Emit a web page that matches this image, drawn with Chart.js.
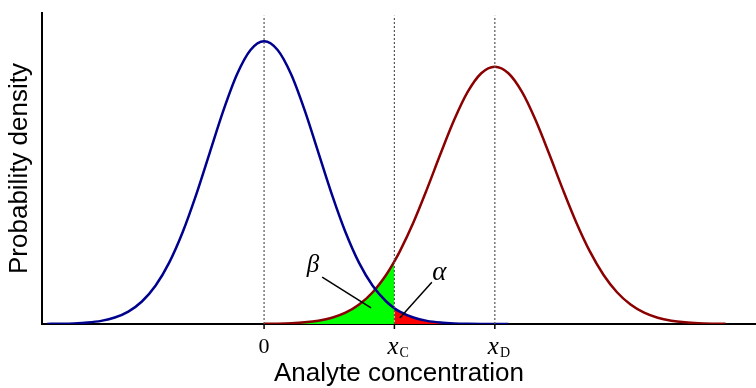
<!DOCTYPE html>
<html>
<head>
<meta charset="utf-8">
<script src="https://cdn.jsdelivr.net/npm/chart.js@4.4.1/dist/chart.umd.min.js"></script>
<style>
  html, body { margin: 0; padding: 0; background: #fff; }
  #wrap { width: 756px; height: 388px; }
</style>
</head>
<body>
<div id="wrap"><canvas id="grafico"></canvas></div>
<script>
// blanco (blank sample) curve, centred on 0
const blancoX = [-4, -3.75, -3.5, -3.25, -3, -2.75, -2.5, -2.25, -2, -1.75, -1.5, -1.25, -1, -0.75, -0.5, -0.25,
  0, 0.25, 0.5, 0.75, 1, 1.25, 1.5, 1.75, 2, 2.25, 2.4, 2.5, 2.75, 3, 3.25, 3.5, 3.75, 4, 4.25, 4.5];
const blancoY = [0.0003, 0.0009, 0.0022, 0.0051, 0.0111, 0.0228, 0.0439, 0.0796, 0.1353, 0.2163, 0.3247, 0.4578,
  0.6065, 0.7548, 0.8825, 0.9692, 1.0, 0.9692, 0.8825, 0.7548, 0.6065, 0.4578, 0.3247, 0.2163, 0.1353, 0.0796,
  0.0561, 0.0439, 0.0228, 0.0111, 0.0051, 0.0022, 0.0009, 0.0003, 0.0001, 0.0];

// muestra at the detection limit, centred on xD
const muestraX = [0, 0.25, 0.5, 0.75, 1, 1.25, 1.5, 1.75, 2, 2.25, 2.4, 2.5, 2.75, 3, 3.25, 3.5, 3.75, 4, 4.25,
  4.5, 4.75, 5, 5.25, 5.5, 5.75, 6, 6.25, 6.5, 6.75, 7, 7.25, 7.5, 7.75, 8, 8.25, 8.5];
const muestraY = [0.0005, 0.0012, 0.0027, 0.0058, 0.0116, 0.0221, 0.0400, 0.0688, 0.1123, 0.1743, 0.2212, 0.2567,
  0.3591, 0.4771, 0.6020, 0.7213, 0.8207, 0.8868, 0.91, 0.8868, 0.8207, 0.7213, 0.6020, 0.4771, 0.3591, 0.2567,
  0.1743, 0.1123, 0.0688, 0.0400, 0.0221, 0.0116, 0.0058, 0.0027, 0.0012, 0.0005];

// tick positions and their labels
const marcasX = [0, 2.4, 4.25];
const marcasTexto = [['0', ''], ['x', 'C'], ['x', 'D']];
const alturaGuia = 1.09;

// beta / alpha pointer lines and their letters
const betaLinea = [[1.07, 0.166], [1.97, 0.057]];
const alfaLinea = [[3.09, 0.148], [2.5, 0.021]];
const letras = [['β', 0.90, 0.208], ['α', 3.23, 0.18]];

const xC = marcasX[1];

function puntos(xs, ys) {
  return xs.map((x, i) => ({ x: x, y: ys[i] }));
}

const blanco = puntos(blancoX, blancoY);
const muestra = puntos(muestraX, muestraY);
const zonaBeta = muestra.filter(p => p.x <= xC);
const zonaAlfa = blanco.filter(p => p.x >= xC);

const guias = marcasX.map(x => ({
  data: [{ x: x, y: 0 }, { x: x, y: alturaGuia }],
  borderColor: '#555555',
  borderWidth: 1.2,
  borderDash: [2, 2],
  pointRadius: 0,
  fill: false,
  order: 1
}));

const etiquetas = {
  id: 'etiquetas',
  afterDraw(chart) {
    const ctx = chart.ctx;
    const sx = chart.scales.x;
    const sy = chart.scales.y;
    const base = sy.getPixelForValue(0);
    ctx.save();
    ctx.strokeStyle = '#000';
    ctx.lineWidth = 1.5;
    ctx.fillStyle = '#000';
    ctx.textBaseline = 'alphabetic';
    marcasX.forEach((v, i) => {
      const px = sx.getPixelForValue(v);
      ctx.beginPath();
      ctx.moveTo(px, base);
      ctx.lineTo(px, base + 5);
      ctx.stroke();
      const t = marcasTexto[i];
      if (t[1] === '') {
        ctx.font = '22px "Liberation Serif", "Times New Roman", serif';
        ctx.textAlign = 'center';
        ctx.fillText(t[0], px, 353);
      } else {
        ctx.textAlign = 'left';
        ctx.font = 'italic 25px "Liberation Serif", "Times New Roman", serif';
        ctx.fillText(t[0], px - 7, 354);
        const w = ctx.measureText(t[0]).width;
        ctx.font = '14px "Liberation Serif", "Times New Roman", serif';
        ctx.fillText(t[1], px - 7 + w + 1, 357);
      }
    });
    ctx.textAlign = 'center';
    ctx.textBaseline = 'middle';
    ctx.font = 'italic 25px "Liberation Serif", "Times New Roman", serif';
    ctx.fillText(letras[0][0], sx.getPixelForValue(letras[0][1]), sy.getPixelForValue(letras[0][2]));
    ctx.font = 'italic 27px "Liberation Serif", "Times New Roman", serif';
    ctx.fillText(letras[1][0], sx.getPixelForValue(letras[1][1]), sy.getPixelForValue(letras[1][2]));
    ctx.restore();
  }
};

const ctx = document.getElementById('grafico').getContext('2d');

new Chart(ctx, {
  type: 'line',
  data: {
    datasets: [
      { data: zonaBeta, borderWidth: 0, backgroundColor: '#00ff00', fill: 'origin', pointRadius: 0,
        cubicInterpolationMode: 'monotone', order: 4 },
      { data: zonaAlfa, borderWidth: 0, backgroundColor: '#ff0000', fill: 'origin', pointRadius: 0,
        cubicInterpolationMode: 'monotone', order: 4 },
      { data: blanco, borderColor: '#00008f', borderWidth: 2.5, fill: false, pointRadius: 0,
        cubicInterpolationMode: 'monotone', order: 2 },
      { data: muestra, borderColor: '#8b0000', borderWidth: 2.5, fill: false, pointRadius: 0,
        cubicInterpolationMode: 'monotone', order: 2 },
      ...guias,
      { data: betaLinea.map(p => ({ x: p[0], y: p[1] })), borderColor: '#000', borderWidth: 1.5,
        pointRadius: 0, fill: false, order: 0 },
      { data: alfaLinea.map(p => ({ x: p[0], y: p[1] })), borderColor: '#000', borderWidth: 1.5,
        pointRadius: 0, fill: false, order: 0 }
    ]
  },
  options: {
    responsive: true,
    maintainAspectRatio: false,
    animation: false,
    layout: { padding: { left: 0, right: 0, top: 13, bottom: 0 } },
    plugins: {
      legend: { display: false },
      tooltip: { enabled: false }
    },
    scales: {
      x: {
        type: 'linear',
        min: -4.09,
        max: 9.06,
        grid: { display: false, drawTicks: false },
        border: { display: true, color: '#000', width: 2 },
        ticks: { display: false },
        title: {
          display: true,
          text: 'Analyte concentration',
          color: '#000',
          font: { family: '"Liberation Sans", Arial, sans-serif', size: 26 },
          padding: { top: 34.4, bottom: -1.6 }
        }
      },
      y: {
        min: 0,
        max: 1.1,
        grid: { display: false, drawTicks: false },
        border: { display: true, color: '#000', width: 2 },
        ticks: { display: false },
        title: {
          display: true,
          text: 'Probability density',
          color: '#000',
          font: { family: '"Liberation Sans", Arial, sans-serif', size: 26 },
          padding: { top: 4, bottom: 6.8 }
        }
      }
    }
  },
  plugins: [etiquetas]
});
</script>
</body>
</html>
